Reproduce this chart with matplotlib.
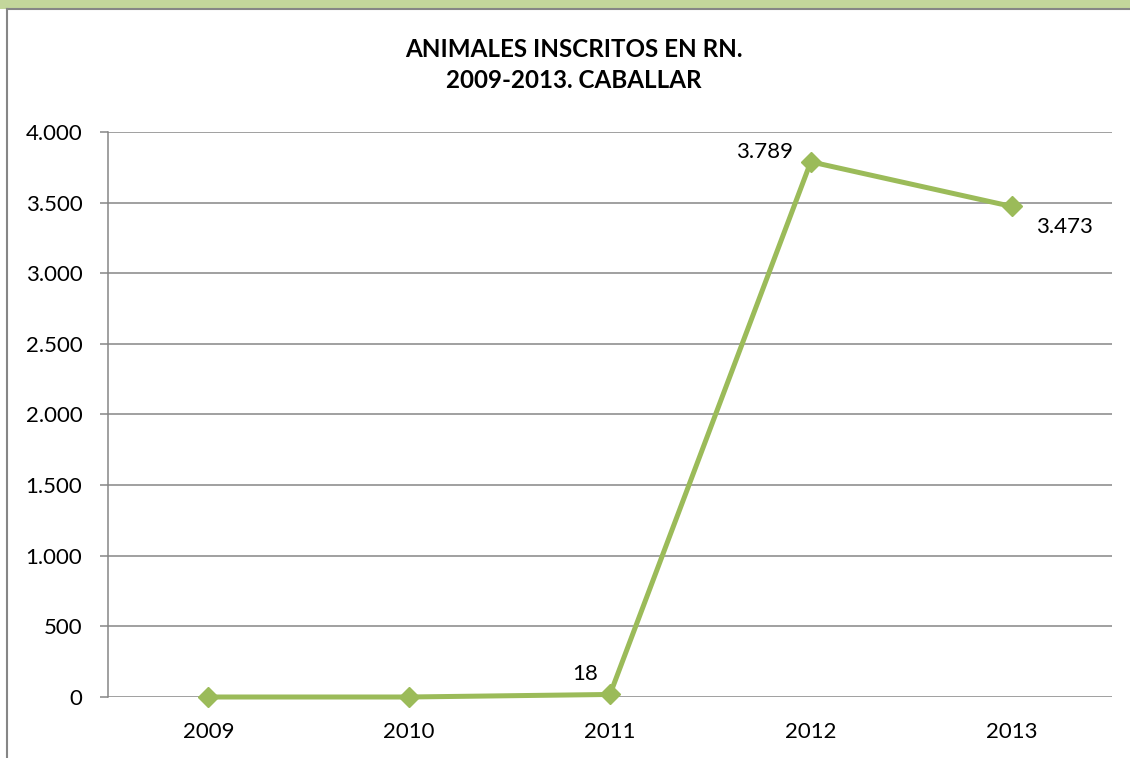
import matplotlib.pyplot as plt
from matplotlib.patches import Rectangle
from matplotlib.lines import Line2D
from matplotlib.ticker import FuncFormatter

# Data
years = ['2009', '2010', '2011', '2012', '2013']
animales = [0, 0, 18, 3789, 3473]
label_years = ['2011', '2012', '2013']

plt.rcParams['font.family'] = ['Lato', 'DejaVu Sans']

fig = plt.figure(figsize=(11.3, 7.58), dpi=100)
fig.patch.set_facecolor('white')

# green band at top and chart frame
fig.patches.append(Rectangle((0, 1 - 9 / 758), 1, 9 / 758, transform=fig.transFigure,
                             facecolor='#C3D69B', edgecolor='none', zorder=0))
fig.lines.append(Line2D([7 / 1130, 7 / 1130], [0, 1 - 9 / 758], transform=fig.transFigure,
                        color='#868686', lw=1.5))
fig.lines.append(Line2D([7 / 1130, 1], [1 - 9 / 758, 1 - 9 / 758], transform=fig.transFigure,
                        color='#868686', lw=1.5))

ax = fig.add_axes([108 / 1130, 1 - 697 / 758, (1112 - 108) / 1130, (697 - 132) / 758])

x = list(range(len(years)))
ax.plot(x, animales, color='#9BBB59', lw=3.6, marker='D', markersize=10.5,
        markerfacecolor='#9BBB59', markeredgecolor='#9BBB59', zorder=3, clip_on=False)

ax.set_xlim(-0.5, len(years) - 0.5)
ax.set_ylim(0, 4000)
ax.set_yticks(range(0, 4001, 500))
ax.yaxis.set_major_formatter(FuncFormatter(lambda v, p: f'{int(v):,}'.replace(',', '.')))
ax.set_xticks(x)
ax.set_xticklabels(years)
ax.tick_params(axis='y', length=5.5, width=1.1, color='#868686', labelsize=16, pad=13)
ax.tick_params(axis='x', length=0, labelsize=16, pad=18)

ax.grid(axis='y', color='#868686', lw=1.1)
ax.set_axisbelow(True)
for s in ['top', 'right', 'bottom']:
    ax.spines[s].set_visible(False)
ax.spines['left'].set_color('#868686')
ax.spines['left'].set_linewidth(1.1)

# data labels (offsets in pixels)
offsets = {'2011': (-25, 10, 'center', 'bottom'),
           '2012': (-18, 0, 'right', 'bottom'),
           '2013': (24, -11, 'left', 'top')}
for yr in label_years:
    i = years.index(yr)
    v = animales[i]
    dx, dy, ha, va = offsets[yr]
    ax.annotate(f'{v:,}'.replace(',', '.'), (i, v), textcoords='offset pixels',
                xytext=(dx, dy), ha=ha, va=va, fontsize=16)

fig.text(574 / 1130, 1 - 65 / 758, 'ANIMALES INSCRITOS EN RN.\n2009-2013. CABALLAR',
         ha='center', va='center', fontsize=17.4, fontweight='bold', linespacing=1.45)

fig.savefig('out.png', dpi=100)
